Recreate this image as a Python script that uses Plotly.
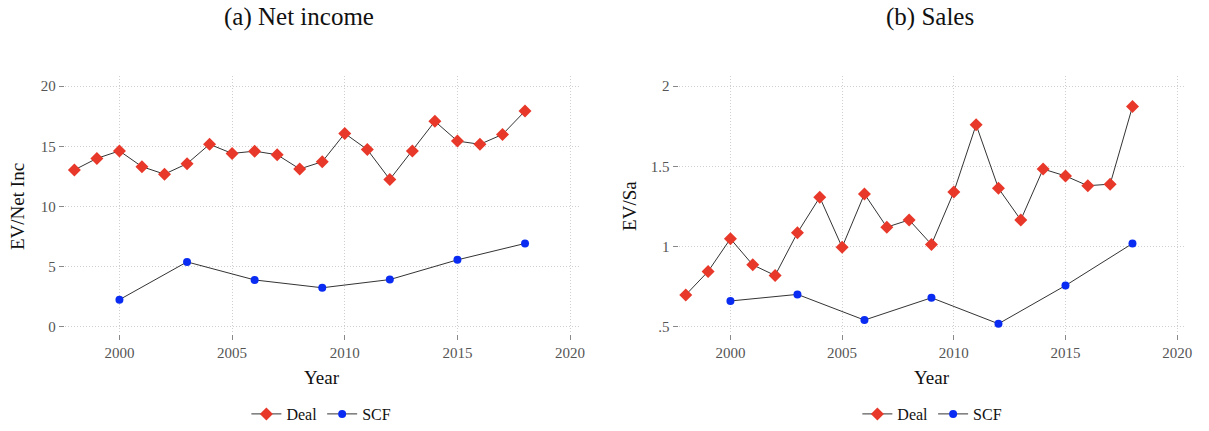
import plotly.graph_objects as go

years_deal = list(range(1998, 2019))
years_scf = [2000, 2003, 2006, 2009, 2012, 2015, 2018]

ni_deal = [13.04, 14.0, 14.62, 13.31, 12.69, 13.56, 15.17, 14.41, 14.6, 14.3, 13.12,
           13.72, 16.07, 14.73, 12.25, 14.62, 17.08, 15.44, 15.17, 15.99, 17.93]
ni_scf = [2.26, 5.40, 3.90, 3.25, 3.93, 5.57, 6.93]

sa_deal = [0.70, 0.846, 1.050, 0.887, 0.821, 1.087, 1.308, 0.997, 1.329, 1.122, 1.167,
           1.014, 1.341, 1.760, 1.364, 1.167, 1.484, 1.441, 1.380, 1.390, 1.873]
sa_scf = [0.662, 0.703, 0.543, 0.682, 0.520, 0.758, 1.020]

x_ticks = [2000, 2005, 2010, 2015, 2020]
ni_ticks = [0, 5, 10, 15, 20]
sa_ticks = [0.5, 1, 1.5, 2]
sa_ticktext = [".5", "1", "1.5", "2"]

titles = ["(a) Net income", "(b) Sales"]
ytitles = ["EV/Net Inc", "EV/Sa"]

W, H = 1209, 431
FONT = "Liberation Serif, Times New Roman, serif"
RED = "#e8382a"
BLUE = "#0a2cf2"
LINE = "#333333"

fig = go.Figure()

def add(xv, yv, name, color, symbol, size, xa, ya, legend):
    fig.add_trace(go.Scatter(
        x=xv, y=yv, name=name, mode="lines+markers",
        line=dict(color=LINE, width=1),
        marker=dict(color=color, symbol=symbol, size=size, line=dict(width=0)),
        xaxis=xa, yaxis=ya, legend=legend, showlegend=True))

add(years_deal, ni_deal, "Deal", RED, "diamond", 10, "x", "y", "legend")
add(years_scf, ni_scf, "SCF", BLUE, "circle", 8, "x", "y", "legend")
add(years_deal, sa_deal, "Deal", RED, "diamond", 10, "x2", "y2", "legend2")
add(years_scf, sa_scf, "SCF", BLUE, "circle", 8, "x2", "y2", "legend2")

ytop = 1 - 77 / H
ybot = 1 - 337 / H

axis_common = dict(
    showgrid=True, gridcolor="#cfcfcf", griddash="1px,2px", gridwidth=1,
    zeroline=False, showline=False, ticks="outside", ticklen=5,
    tickcolor="#888888", tickfont=dict(family=FONT, size=15, color="#555555"),
)

fig.update_layout(
    width=W, height=H, margin=dict(l=0, r=0, t=0, b=0),
    paper_bgcolor="white", plot_bgcolor="white",
    font=dict(family=FONT),
    xaxis=dict(domain=[65 / W, 582 / W], range=[1997.57, 2020.4], tickvals=x_ticks,
               anchor="y", **axis_common),
    yaxis=dict(domain=[ybot, ytop], range=[-0.58, 20.82], tickvals=ni_ticks,
               anchor="x", **axis_common),
    xaxis2=dict(domain=[682 / W, 1192 / W], range=[1997.68, 2020.4], tickvals=x_ticks,
                anchor="y2", **axis_common),
    yaxis2=dict(domain=[ybot, ytop], range=[0.457, 2.062], tickvals=sa_ticks,
                ticktext=sa_ticktext, anchor="x2", **axis_common),
    legend=dict(orientation="h", x=323 / W, xanchor="center", y=1 - 418 / H,
                yanchor="middle", font=dict(family=FONT, size=16, color="#111"),
                itemwidth=30, bgcolor="rgba(0,0,0,0)"),
    legend2=dict(orientation="h", x=937 / W, xanchor="center", y=1 - 418 / H,
                 yanchor="middle", font=dict(family=FONT, size=16, color="#111"),
                 itemwidth=30, bgcolor="rgba(0,0,0,0)"),
)

ann = []
for cx, t in zip([300 / W, 935 / W], titles):
    ann.append(dict(text=t, x=cx, y=1 - 17 / H, xref="paper", yref="paper",
                    showarrow=False, font=dict(family=FONT, size=25, color="#111"),
                    xanchor="center", yanchor="middle"))
for cx, t in zip([17 / W, 632 / W], ytitles):
    ann.append(dict(text=t, x=cx, y=1 - 208 / H, xref="paper", yref="paper",
                    showarrow=False, textangle=-90,
                    font=dict(family=FONT, size=19, color="#111"),
                    xanchor="center", yanchor="middle"))
for cx in [324 / W, 937 / W]:
    ann.append(dict(text="Year", x=cx, y=1 - 381 / H, xref="paper", yref="paper",
                    showarrow=False, font=dict(family=FONT, size=19, color="#111"),
                    xanchor="center", yanchor="middle"))
fig.update_layout(annotations=ann)

fig.write_html("out.html", config={"displayModeBar": False})

with open("out.html", "r", encoding="utf-8") as f:
    html = f.read()
html = html.replace("<head>", "<head><style>html,body{margin:0;padding:0;overflow:hidden;}</style>", 1)
with open("out.html", "w", encoding="utf-8") as f:
    f.write(html)
